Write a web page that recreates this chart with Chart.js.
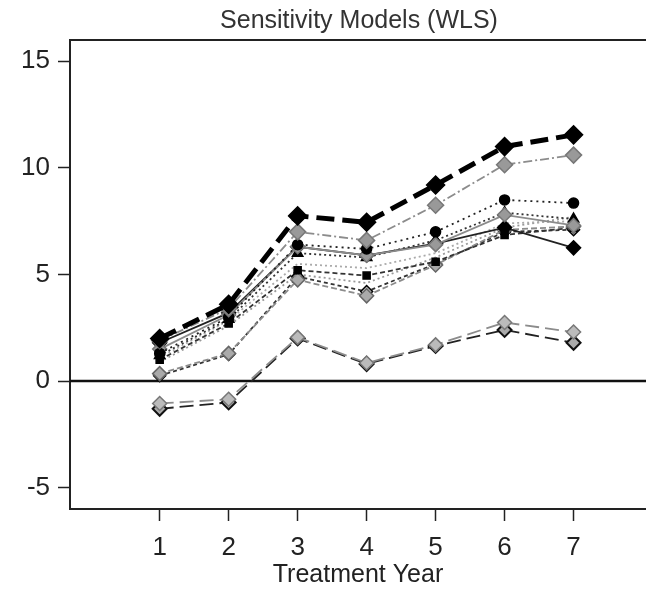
<!DOCTYPE html>
<html>
<head>
<meta charset="utf-8">
<script src="https://cdn.jsdelivr.net/npm/chart.js@4/dist/chart.umd.min.js"></script>
<style>
    html, body { margin: 0; padding: 0; background: #fff; overflow: hidden; }
    #wrap { width: 646px; height: 590px; }
</style>
</head>
<body>
<div id="wrap"><canvas id="chart_wls" width="646" height="590"></canvas></div>
<script>
// treatment years and y ticks
const years = [1, 2, 3, 4, 5, 6, 7];
const yTicks = [-5, 0, 5, 10, 15];

// estimates per model
const mainModel   = [2.0, 3.6, 7.75, 7.45, 9.2, 11.0, 11.55];
const grayDashDot = [1.9, 3.4, 7.0, 6.6, 8.25, 10.15, 10.6];
const dotCircles  = [1.3, 3.0, 6.4, 6.2, 7.0, 8.5, 8.35];
const graySolid   = [1.5, 3.1, 6.3, 5.9, 6.4, 7.8, 7.3];
const dotTriangle = [1.2, 2.9, 6.0, 5.8, 6.6, 7.9, 7.6];
const blackSolid  = [1.8, 3.2, 6.3, 5.9, 6.45, 7.2, 6.25];
const dashSquares = [1.0, 2.7, 5.2, 4.95, 5.6, 6.85, 7.2];
const grayDotA    = [1.1, 2.85, 5.5, 5.3, 6.0, 7.4, 7.5];
const grayDotB    = [0.9, 2.6, 5.0, 4.6, 5.8, 7.2, 7.7];
const grayDashed  = [0.35, 1.3, 4.75, 4.0, 5.45, 7.1, 7.25];
const blackDashed = [0.25, 1.25, 4.9, 4.2, 5.5, 7.0, 7.1];
const grayLowDash = [-1.05, -0.85, 2.05, 0.85, 1.7, 2.75, 2.3];
const blackLowDash = [-1.3, -1.0, 2.0, 0.8, 1.65, 2.4, 1.8];

const BLACK = '#000';
const GRAY = '#8c8c8c';
const FONT = '"Liberation Sans", Arial, sans-serif';

function points(values) {
    return values.map((v, i) => ({ x: years[i], y: v }));
}

function series(label, values, style) {
    return Object.assign({
        label: label,
        data: points(values),
        borderColor: BLACK,
        backgroundColor: BLACK,
        pointBorderColor: BLACK,
        pointBackgroundColor: BLACK,
        borderWidth: 1.8,
        pointRadius: 6,
        pointBorderWidth: 1.5,
        pointStyle: 'rectRot',
        tension: 0,
        fill: false,
    }, style);
}

const datasets = [
    series('Main', mainModel, { borderWidth: 5, borderDash: [18, 8], pointRadius: 9 }),
    series('Gray dash-dot', grayDashDot, {
        borderColor: GRAY, pointBorderColor: '#777', pointBackgroundColor: '#999',
        borderDash: [9, 3, 2, 3], pointRadius: 8
    }),
    series('Dotted circles', dotCircles, { borderColor: '#222', borderDash: [2, 4], pointStyle: 'circle', pointRadius: 5 }),
    series('Gray solid', graySolid, {
        borderColor: GRAY, pointBorderColor: '#777', pointBackgroundColor: '#999', pointRadius: 7
    }),
    series('Dotted triangles', dotTriangle, { borderColor: '#333', borderDash: [2, 3], pointStyle: 'triangle', pointRadius: 6 }),
    series('Black solid', blackSolid, { borderColor: '#222', pointRadius: 7 }),
    series('Dashed squares', dashSquares, { borderColor: '#333', borderDash: [5, 3], pointStyle: 'rect', pointRadius: 5 }),
    series('Gray dotted A', grayDotA, { borderColor: '#aaa', borderDash: [2, 3], pointRadius: 0 }),
    series('Gray dotted B', grayDotB, { borderColor: '#999', borderDash: [2, 3], pointRadius: 0 }),
    series('Gray dashed', grayDashed, {
        borderColor: GRAY, pointBorderColor: '#666', pointBackgroundColor: '#aaa',
        borderDash: [6, 3], pointRadius: 7
    }),
    series('Black dashed', blackDashed, {
        borderColor: '#333', borderDash: [4, 3], pointBackgroundColor: '#bbb', pointRadius: 6
    }),
    series('Gray low', grayLowDash, {
        borderColor: GRAY, pointBorderColor: '#777', pointBackgroundColor: '#bbb',
        borderDash: [14, 6], pointRadius: 7
    }),
    series('Black low', blackLowDash, {
        borderColor: '#222', pointBorderColor: '#111', pointBackgroundColor: '#aaa',
        borderDash: [14, 6], pointRadius: 7, pointBorderWidth: 2
    }),
];

// title, top frame line and zero line
const framePlugin = {
    id: 'frame',
    beforeDatasetsDraw(chart) {
        const { ctx, chartArea, scales } = chart;
        const y0 = scales.y.getPixelForValue(0);
        ctx.save();
        ctx.strokeStyle = '#111';
        ctx.lineWidth = 2.5;
        ctx.beginPath();
        ctx.moveTo(chartArea.left, y0);
        ctx.lineTo(chart.width, y0);
        ctx.stroke();
        ctx.restore();
    },
    afterDraw(chart) {
        const { ctx, chartArea } = chart;
        ctx.save();
        ctx.strokeStyle = '#222';
        ctx.lineWidth = 2;
        ctx.beginPath();
        ctx.moveTo(chartArea.left, chartArea.top);
        ctx.lineTo(chart.width, chartArea.top);
        ctx.stroke();
        ctx.fillStyle = '#333';
        ctx.font = '25px ' + FONT;
        ctx.textAlign = 'center';
        ctx.textBaseline = 'middle';
        ctx.fillText('Sensitivity Models (WLS)', 359, 21);
        ctx.restore();
    }
};

new Chart(document.getElementById('chart_wls'), {
    type: 'line',
    data: { datasets: datasets },
    options: {
        responsive: false,
        animation: false,
        layout: { autoPadding: false, padding: { top: 40, left: 0, right: 0, bottom: 0 } },
        plugins: {
            legend: { display: false },
            tooltip: { enabled: false },
        },
        scales: {
            x: {
                type: 'linear',
                min: -0.3,
                max: 8.05,
                afterFit(scale) {
                    scale.height = 81;
                    scale.paddingLeft = 0;
                    scale.paddingRight = 0;
                },
                afterBuildTicks(scale) { scale.ticks = years.map(v => ({ value: v })); },
                border: { display: true, color: '#222', width: 2 },
                grid: { drawOnChartArea: false, tickLength: 12, tickColor: '#222', tickWidth: 1.5 },
                ticks: {
                    color: '#222', padding: 11,
                    font: { family: FONT, size: 26 }
                },
                title: {
                    display: true,
                    text: 'Treatment Year',
                    color: '#222',
                    padding: { top: 0, bottom: 0 },
                    font: { family: FONT, size: 25 }
                }
            },
            y: {
                min: -6,
                max: 16,
                afterFit(scale) {
                    scale.width = 70;
                    scale.paddingTop = 0;
                    scale.paddingBottom = 0;
                },
                afterBuildTicks(scale) { scale.ticks = yTicks.map(v => ({ value: v })); },
                border: { display: true, color: '#222', width: 2 },
                grid: { drawOnChartArea: false, tickLength: 12, tickColor: '#222', tickWidth: 1.5 },
                ticks: {
                    color: '#222', padding: 8,
                    font: { family: FONT, size: 26 }
                }
            }
        }
    },
    plugins: [framePlugin]
});
</script>
</body>
</html>
